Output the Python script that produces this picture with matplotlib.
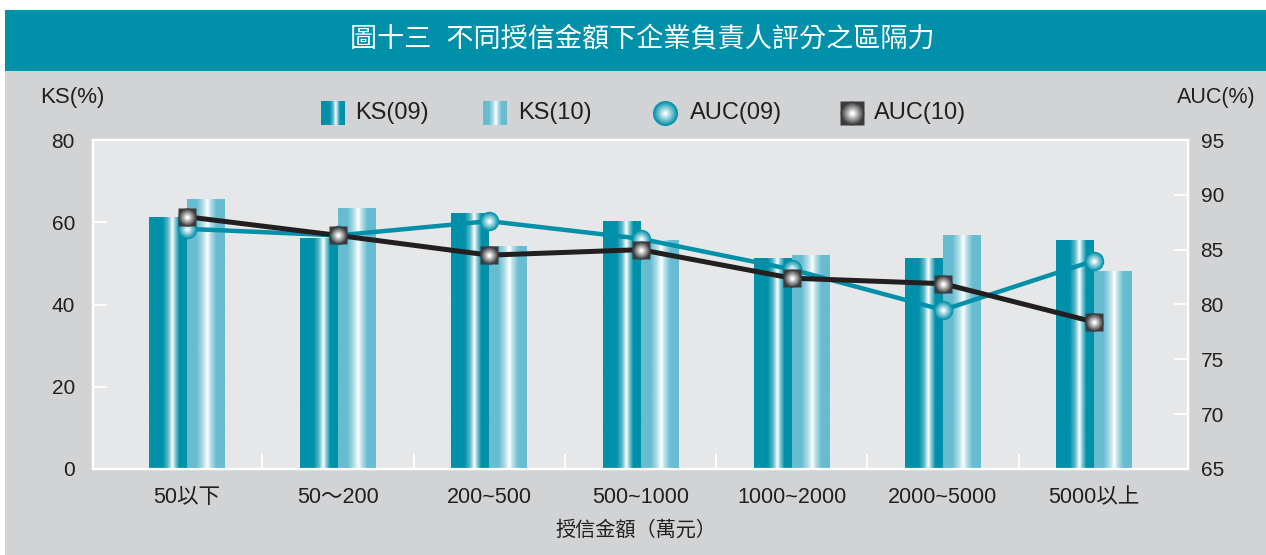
import numpy as np
import matplotlib
matplotlib.use("Agg")
import matplotlib.pyplot as plt
from matplotlib.patches import Rectangle
from matplotlib.colors import to_rgb

plt.rcParams['font.family'] = ['Liberation Sans', 'Noto Sans CJK TC']

# ==============================
# Data
# ==============================
categories = ['50以下', '50～200', '200~500', '500~1000', '1000~2000', '2000~5000', '5000以上']
ks_09 = [61.3, 56.2, 62.3, 60.4, 51.4, 51.4, 55.8]
ks_10 = [65.7, 63.5, 54.3, 55.8, 52.1, 57.0, 48.2]
auc_09 = [86.9, 86.3, 87.6, 86.0, 83.2, 79.5, 84.0]
auc_10 = [88.0, 86.3, 84.5, 85.0, 82.4, 81.9, 78.4]

title = '圖十三  不同授信金額下企業負責人評分之區隔力'
xlabel = '授信金額（萬元）'

# ==============================
# Colours
# ==============================
TEAL = '#0090a9'
LIGHT_TEAL = '#67bcd0'
DARK_GREY = '#3b3a3c'
PANEL = '#d1d3d4'
PLOT_BG = '#e6e7e8'
TEXT = '#231f20'


def gradient_row(base, stops):
    """horizontal gradient: stops are (position, mix with white)"""
    t = np.linspace(0, 1, 200)
    pos = [s[0] for s in stops]
    mix = np.interp(t, pos, [s[1] for s in stops])
    b = np.array(to_rgb(base))
    rgb = b[None, :] * (1 - mix[:, None]) + mix[:, None]
    return rgb[None, :, :]


grad_09 = gradient_row(TEAL, [(0, 0), (0.36, 0), (0.5, 0.35), (0.62, 1.0), (0.68, 0.6), (0.8, 0), (1, 0)])
grad_10 = gradient_row(LIGHT_TEAL, [(0, 0), (0.25, 0), (0.42, 0.5), (0.54, 1.0), (0.62, 0.55), (0.78, 0), (1, 0)])

# ==============================
# Figure and background
# ==============================
fig = plt.figure(figsize=(12.66, 5.55), dpi=100)
W, H = 1266, 555
fig.patches.append(Rectangle((5 / W, 0), 1 - 5 / W, 1 - 70 / H, transform=fig.transFigure,
                             facecolor=PANEL, edgecolor='none', zorder=-10))
fig.patches.append(Rectangle((5 / W, 1 - 71 / H), 1 - 5 / W, 61 / H, transform=fig.transFigure,
                             facecolor=TEAL, edgecolor='none', zorder=-10))
fig.text(642 / W, 1 - 40 / H, title, color='white', fontsize=19.5, ha='center', va='center')

ax = fig.add_axes([93 / W, 1 - 469 / H, (1188 - 93) / W, (469 - 140) / H])
ax.set_facecolor(PLOT_BG)
ax2 = ax.twinx()
ax2.patch.set_visible(False)

x = np.arange(len(categories))
bw = 0.25

# ==============================
# Bars (gradient filled)
# ==============================
bars_09 = ax.bar(x - bw / 2, ks_09, width=bw, color=TEAL, zorder=2)
bars_10 = ax.bar(x + bw / 2, ks_10, width=bw, color=LIGHT_TEAL, zorder=2)
for bars, grad in [(bars_09, grad_09), (bars_10, grad_10)]:
    for b in bars:
        x0, y0 = b.get_x(), b.get_y()
        im = ax.imshow(grad, extent=[x0, x0 + b.get_width(), y0, y0 + b.get_height()],
                       aspect='auto', zorder=3, interpolation='bilinear')
        im.set_clip_path(b)

ax.set_xlim(-0.62, 6.62)
ax.set_ylim(0, 80)
ax2.set_ylim(65, 95)


# ==============================
# Lines with gradient markers
# ==============================
def shaded_markers(axis, xs, ys, marker, ms, outer, inner, n=10, square_bg=None):
    if square_bg is not None:
        axis.plot(xs, ys, 's', ms=ms, color=square_bg, mec='none', zorder=6, clip_on=False)
    o = np.array(to_rgb(outer))
    i = np.array(to_rgb(inner))
    for k in range(n):
        f = k / (n - 1)
        c = o * (1 - f) + i * f
        axis.plot(xs, ys, marker, ms=ms * (1 - 0.85 * f), color=c, mec='none', zorder=6, clip_on=False)


ax2.plot(x, auc_09, color=TEAL, lw=3.2, zorder=5, solid_capstyle='round')
shaded_markers(ax2, x, auc_09, 'o', 14, TEAL, '#f2fbfd')
ax2.plot(x, auc_10, color=TEXT, lw=3.6, zorder=6, solid_capstyle='round')
shaded_markers(ax2, x, auc_10, 'o', 13, DARK_GREY, '#ffffff', square_bg=DARK_GREY)

# ==============================
# Axes styling
# ==============================
for a in (ax, ax2):
    for s in a.spines.values():
        s.set_color('white')
        s.set_linewidth(1.6)

ax.set_yticks([0, 20, 40, 60, 80])
ax.tick_params(axis='y', direction='in', length=10, width=1.3, color='white',
               labelsize=15, labelcolor=TEXT, pad=13)
ax2.set_yticks([65, 70, 75, 80, 85, 90, 95])
ax2.tick_params(axis='y', direction='in', length=10, width=1.3, color='white',
                labelsize=15, labelcolor=TEXT, pad=9)

ax.set_xticks(x)
ax.set_xticklabels(categories)
ax.set_xticks(np.arange(0.5, len(categories) - 1, 1), minor=True)
ax.tick_params(axis='x', which='major', length=0, labelsize=15.5, labelcolor=TEXT, pad=13)
ax.tick_params(axis='x', which='minor', direction='in', length=11, width=1.3, color='white')

fig.text(40 / W, 1 - 98 / H, 'KS(%)', fontsize=16, color=TEXT, ha='left', va='center')
fig.text(1256 / W, 1 - 98 / H, 'AUC(%)', fontsize=15.5, color=TEXT, ha='right', va='center')
fig.text(636 / W, 1 - 530 / H, xlabel, fontsize=14.5, color=TEXT, ha='center', va='center')

# ==============================
# Legend (hand made so the icons keep their shading)
# ==============================
ly = 1 - 113 / H
for lx, grad, label, tx in [(321, grad_09, 'KS(09)', 355), (483, grad_10, 'KS(10)', 518)]:
    lax = fig.add_axes([lx / W, ly - 12 / H, 24 / W, 24 / H])
    lax.imshow(grad, aspect='auto', interpolation='bilinear')
    lax.axis('off')
    fig.text(tx / W, ly, label, fontsize=17, color=TEXT, ha='left', va='center')

leg = fig.add_axes([0, 0, 1, 1], facecolor='none')
leg.set_xlim(0, W)
leg.set_ylim(H, 0)
leg.axis('off')
shaded_markers(leg, [665], [113], 'o', 18, TEAL, '#f2fbfd')
shaded_markers(leg, [852], [113], 'o', 17, DARK_GREY, '#ffffff', square_bg=DARK_GREY)
fig.text(690 / W, ly, 'AUC(09)', fontsize=17, color=TEXT, ha='left', va='center')
fig.text(874 / W, ly, 'AUC(10)', fontsize=17, color=TEXT, ha='left', va='center')

fig.savefig('out.png', dpi=100)
